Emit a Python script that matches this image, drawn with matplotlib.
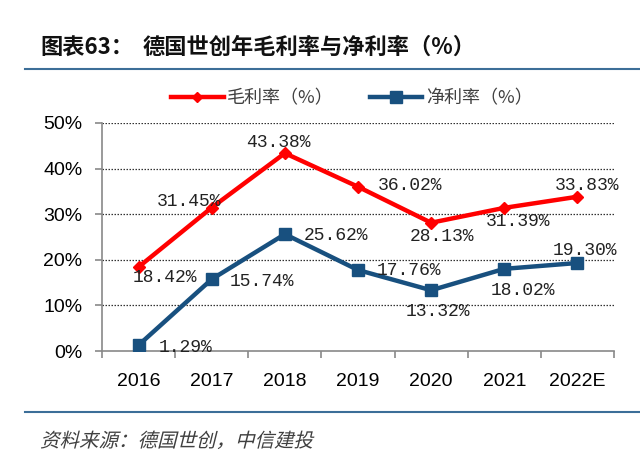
import matplotlib
matplotlib.use("Agg")
import matplotlib.pyplot as plt
from matplotlib.lines import Line2D
from matplotlib.patches import PathPatch
from matplotlib.textpath import TextPath
from matplotlib.font_manager import FontProperties
from matplotlib.transforms import Affine2D

plt.rcParams['font.family'] = ['Noto Sans CJK SC', 'DejaVu Sans']

# data
years = ["2016", "2017", "2018", "2019", "2020", "2021", "2022E"]
gross_margin = [18.42, 31.45, 43.38, 36.02, 28.13, 31.39, 33.83]
net_margin = [1.29, 15.74, 25.62, 17.76, 13.32, 18.02, 19.30]
yticks = [0, 10, 20, 30, 40, 50]

# label offsets in pixels from each point
gross_offsets = [(26, -10), (-23, 6), (-6, 11), (52, 1), (11, -14), (14, -14), (10, 11)]
net_offsets = [(47, -2), (50, -2), (51, -1), (51, 0), (7, -21), (19, -22), (8, 12)]

RED = "#FF0000"
BLUE = "#18507F"
RULE = "#3C6E98"
GREY = "#898989"

W, H = 640, 459
fig = plt.figure(figsize=(W / 100, H / 100), dpi=100)
ax = fig.add_axes([102 / W, 1 - 351 / H, 512 / W, 228 / H])

x = list(range(len(years)))
ax.plot(x, gross_margin, color=RED, lw=3.2, marker="D", ms=6, zorder=3)
ax.plot(x, net_margin, color=BLUE, lw=3.2, marker="s", ms=9, zorder=3)

lab_font = dict(family="Liberation Mono", size=13, color="#222222")
for xi, v, off in zip(x, gross_margin, gross_offsets):
    ax.annotate(f"{v:.2f}%", (xi, v), xytext=off, textcoords="offset pixels",
                ha="center", va="center", zorder=4, **lab_font)
for xi, v, off in zip(x, net_margin, net_offsets):
    ax.annotate(f"{v:.2f}%", (xi, v), xytext=off, textcoords="offset pixels",
                ha="center", va="center", zorder=4, **lab_font)

ax.set_xlim(-0.5, len(years) - 0.5)
ax.set_ylim(0, 50)
ax.set_yticks(yticks)
ax.set_yticklabels([f"{t}%" for t in yticks], family="Liberation Sans", fontsize=14)
ax.set_xticks(x)
ax.set_xticklabels(years, family="Liberation Sans", fontsize=14)
ax.set_xticks([i - 0.5 for i in range(len(years) + 1)], minor=True)
ax.tick_params(axis="x", which="major", length=0, pad=16)
ax.tick_params(axis="x", which="minor", length=5, color=GREY, width=1.2)
ax.tick_params(axis="y", length=5, color=GREY, width=1.2, pad=9)

for t in yticks[1:]:
    ax.axhline(t, color="#333333", lw=0.9, ls=(0, (1.2, 1.2)), zorder=1)

for s in ("top", "right"):
    ax.spines[s].set_visible(False)
for s in ("left", "bottom"):
    ax.spines[s].set_color(GREY)
    ax.spines[s].set_linewidth(1.2)

handles = [
    Line2D([], [], color=RED, lw=3.2, marker="D", ms=5),
    Line2D([], [], color=BLUE, lw=3.2, marker="s", ms=8),
]
fig.legend(handles, ["毛利率（%）", "净利率（%）"], loc="center",
           bbox_to_anchor=(352 / W, 1 - 98 / H), ncol=2, frameon=False,
           fontsize=13, labelcolor="#404040", handlelength=2.9,
           handletextpad=0.2, columnspacing=2.0, borderpad=0)

fig.text(40 / W, 1 - 47 / H, "图表63：", fontsize=16, fontweight="bold",
         va="center", ha="left", color="#111111")
fig.text(143 / W, 1 - 47 / H, "德国世创年毛利率与净利率（%）", fontsize=16,
         fontweight="bold", va="center", ha="left", color="#111111")

fig.add_artist(Line2D([25 / W, 1], [1 - 69 / H] * 2, color=RULE, lw=1.5))
fig.add_artist(Line2D([25 / W, 1], [1 - 412 / H] * 2, color=RULE, lw=1.5))

# the CJK font has no italic, so slant the source line by hand
src = TextPath((0, 0), "资料来源：德国世创，中信建投", size=19.5,
               prop=FontProperties(family="Noto Sans CJK SC"))
slant = Affine2D().skew_deg(14, 0).translate(40, H - 447)
fig.add_artist(PathPatch(src, transform=slant, color="#404040", lw=0))

fig.savefig("out.png", dpi=100)
